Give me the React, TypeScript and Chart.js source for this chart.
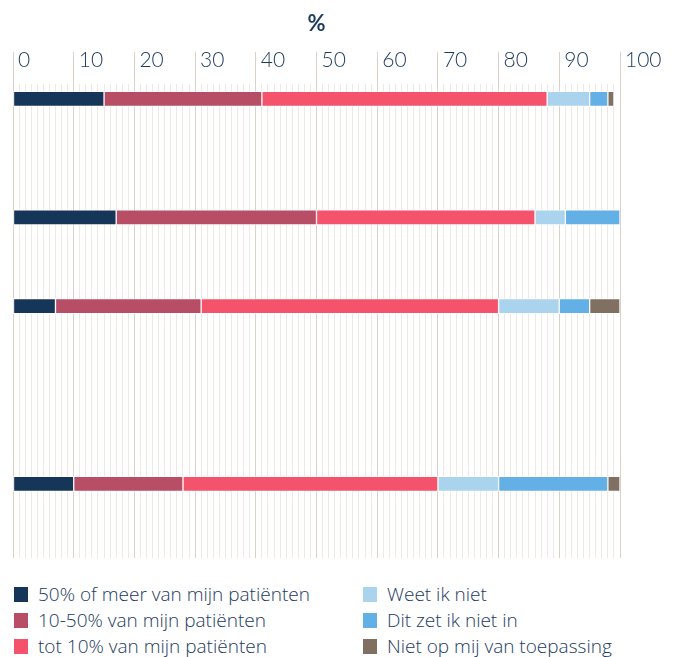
import React, { useEffect, useRef } from 'react';
import { Chart, registerables } from 'chart.js';

Chart.register(...registerables);

const seriesNames = [
  '50% of meer van mijn patiënten',
  '10-50% van mijn patiënten',
  'tot 10% van mijn patiënten',
  'Weet ik niet',
  'Dit zet ik niet in',
  'Niet op mij van toepassing',
];
const seriesColors = ['#163659', '#b84d66', '#f5526c', '#aad4ee', '#62b0e6', '#7f7061'];

const rowLabels = ['Rij 1', 'Rij 2', 'Rij 3', 'Rij 4'];
const rowSlots = [0, 4, 7, 13];
const slotCount = 16;

const meer50 = [15, 17, 7, 10];
const tien50 = [26, 33, 24, 18];
const tot10 = [47, 36, 49, 42];
const weetNiet = [7, 5, 10, 10];
const zetNietIn = [3, 9, 5, 18];
const nietVanToepassing = [1, 0, 5, 2];

const tickLabels = ['0', '10', '20', '30', '40', '50', '60', '70', '80', '90', '100'];
const axisTitle = '%';

const seriesValues = [meer50, tien50, tot10, weetNiet, zetNietIn, nietVanToepassing];

const NAVY = '#1d3a5e';
const GRID_MAJOR = '#dcd1c9';
const GRID_MINOR = '#efe8e4';
const FONT = 'Lato, "Open Sans", sans-serif';
const LEGEND_FONT = '"Open Sans", Lato, sans-serif';

function buildSlots(values: number[]) {
  const arr: (number | null)[] = new Array(slotCount).fill(null);
  rowSlots.forEach((s, i) => {
    arr[s] = values[i];
  });
  return arr;
}

function buildCategories() {
  const arr: string[] = new Array(slotCount).fill('');
  rowSlots.forEach((s, i) => {
    arr[s] = rowLabels[i];
  });
  return arr;
}

export default function App() {
  const ref = useRef<HTMLCanvasElement>(null);

  useEffect(() => {
    if (!ref.current) return;
    const chart = new Chart(ref.current, {
      type: 'bar',
      data: {
        labels: buildCategories(),
        datasets: seriesValues.map((vals, i) => ({
          label: seriesNames[i],
          data: buildSlots(vals),
          backgroundColor: seriesColors[i],
          borderColor: 'rgba(255,255,255,0.65)',
          borderWidth: 1,
          borderSkipped: false,
          barThickness: 15,
        })),
      },
      options: {
        indexAxis: 'y',
        responsive: false,
        animation: false,
        events: [],
        layout: { padding: { top: 5, left: 5, right: 47, bottom: 0 } },
        plugins: {
          legend: { display: false },
          tooltip: { enabled: false },
        },
        scales: {
          x: {
            position: 'top',
            stacked: true,
            min: 0,
            max: 100,
            border: { display: false },
            title: {
              display: true,
              text: axisTitle,
              color: NAVY,
              font: { family: FONT, size: 22, weight: 'bold', lineHeight: 1 },
              padding: { top: 0, bottom: 33 },
            },
            grid: {
              drawOnChartArea: true,
              drawTicks: true,
              tickLength: 32,
              lineWidth: 1,
              color: (ctx: any) => (ctx.tick && ctx.tick.value % 10 === 0 ? GRID_MAJOR : GRID_MINOR),
              tickColor: (ctx: any) => (ctx.tick && ctx.tick.value % 10 === 0 ? GRID_MAJOR : 'rgba(0,0,0,0)'),
            },
            ticks: {
              stepSize: 1,
              autoSkip: false,
              maxRotation: 0,
              minRotation: 0,
              align: 'start',
              labelOffset: 5,
              padding: -20,
              color: NAVY,
              font: { family: FONT, size: 21, weight: '300', lineHeight: 24 / 21 },
              callback: (value: any) => {
                const v = Number(value);
                return v % 10 === 0 ? tickLabels[v / 10] : '';
              },
            },
          },
          y: {
            stacked: true,
            display: false,
          },
        },
      },
    } as any);
    return () => chart.destroy();
  }, []);

  return (
    <div style={{ width: 659 }}>
      <canvas ref={ref} width={659} height={550} style={{ display: 'block' }} />
      <div
        style={{
          marginTop: 23,
          paddingLeft: 6,
          display: 'grid',
          gridAutoFlow: 'column',
          gridTemplateRows: 'repeat(3, 26px)',
          gridTemplateColumns: '349px 300px',
          fontFamily: LEGEND_FONT,
          fontWeight: 300,
          fontSize: 19,
          color: NAVY,
        }}
      >
        {seriesNames.map((name, i) => (
          <div key={name} style={{ display: 'flex', alignItems: 'center', whiteSpace: 'nowrap' }}>
            <span
              style={{
                display: 'inline-block',
                width: 14,
                height: 15,
                background: seriesColors[i],
                marginRight: 10,
                flex: 'none',
              }}
            />
            <span>{name}</span>
          </div>
        ))}
      </div>
    </div>
  );
}
